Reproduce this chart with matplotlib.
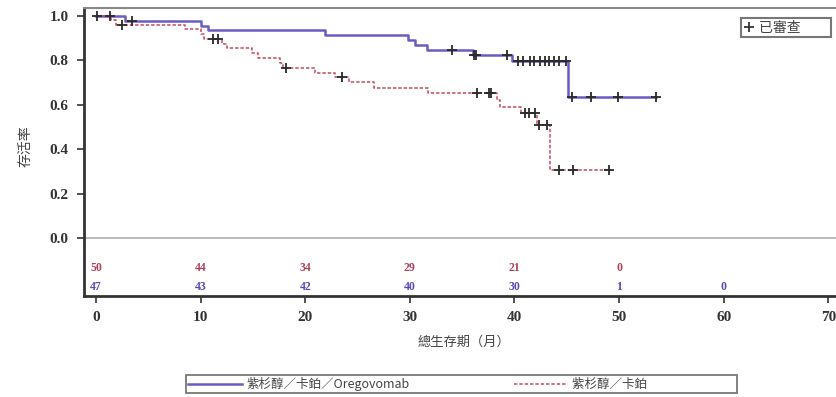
import numpy as np
import matplotlib.pyplot as plt
from matplotlib.lines import Line2D

cjk = ['Noto Sans CJK TC', 'DejaVu Sans']
plt.rcParams['font.family'] = cjk

# Kaplan-Meier steps
blue_t = [0, 2.8, 10.0, 10.7, 21.9, 29.8, 30.5, 31.6, 36.0, 39.8, 45.1, 53.5]
blue_s = [1.0, 0.979, 0.957, 0.936, 0.915, 0.893, 0.870, 0.847, 0.824, 0.797, 0.636, 0.636]
blue_cens = [0.1, 1.3, 3.4, 34.0, 36.1, 36.3, 39.3, 40.3, 40.8, 41.5, 41.9, 42.4,
             42.9, 43.3, 43.8, 44.3, 44.9, 45.5, 47.3, 49.9, 53.5]

red_t = [0, 1.4, 1.9, 8.5, 10.0, 10.3, 12.0, 12.5, 14.9, 15.5, 17.6, 17.9, 20.9,
         22.8, 24.2, 26.6, 31.7, 38.3, 38.6, 40.6, 42.15, 43.4, 49.0]
red_s = [1.0, 0.98, 0.96, 0.94, 0.917, 0.896, 0.876, 0.855, 0.833, 0.811, 0.789,
         0.766, 0.745, 0.724, 0.703, 0.676, 0.652, 0.620, 0.590, 0.565, 0.509, 0.306, 0.306]
red_cens = [2.5, 11.2, 11.7, 18.2, 23.5, 36.4, 37.6, 37.8, 41.0, 41.4, 42.0,
            42.3, 43.1, 44.3, 45.6, 49.0]

risk_months_red = [0, 10, 20, 30, 40, 50]
risk_red = [50, 44, 34, 29, 21, 0]
risk_months_blue = [0, 10, 20, 30, 40, 50, 60]
risk_blue = [47, 43, 42, 40, 30, 1, 0]

blue_c = '#6b5cc4'
red_c = '#c04a5c'


def surv_at(t, times, surv):
    idx = np.searchsorted(times, t, side='right') - 1
    return np.array(surv)[idx]


fig = plt.figure(figsize=(8.37, 3.97), dpi=100)
ax = fig.add_axes([84 / 837, 101 / 397, 760 / 837, 288 / 397])

ax.step(blue_t, blue_s, where='post', color=blue_c, lw=1.8)
ax.step(red_t, red_s, where='post', color=red_c, lw=1.1, ls=(0, (2.2, 1.3)))
ax.plot(blue_cens, surv_at(blue_cens, blue_t, blue_s), ls='none', marker='+',
        ms=6.5, mew=1.3, color='#2a2a2a')
ax.plot(red_cens, surv_at(red_cens, red_t, red_s), ls='none', marker='+',
        ms=6.5, mew=1.3, color='#2a2a2a')

ax.axhline(0, color='#b0b0b0', lw=1.2)

serif_b = dict(family='Liberation Serif', weight='bold')
for m, n in zip(risk_months_red, risk_red):
    ax.text(m, -0.135, str(n), color='#b0405a', fontsize=8.5, ha='center', va='center', **serif_b)
for m, n in zip(risk_months_blue, risk_blue):
    ax.text(m, -0.22, str(n), color='#5a48bb', fontsize=8.5, ha='center', va='center', **serif_b)

ax.set_xlim(-1.15, 71.5)
ax.set_ylim(-0.26, 1.036)
ax.set_xticks(np.arange(0, 80, 10))
ax.set_yticks([0.0, 0.2, 0.4, 0.6, 0.8, 1.0])
ax.set_yticklabels(['0.0', '0.2', '0.4', '0.6', '0.8', '1.0'])
for lab in ax.get_xticklabels() + ax.get_yticklabels():
    lab.set_family('Liberation Serif')
    lab.set_weight('bold')
    lab.set_fontsize(11)
    lab.set_color('#333333')
ax.tick_params(length=5, width=1.3, color='#444444', pad=6)

for s in ['left', 'bottom']:
    ax.spines[s].set_linewidth(2)
    ax.spines[s].set_color('#333333')
ax.spines['top'].set_linewidth(1.5)
ax.spines['top'].set_color('#888888')
ax.spines['right'].set_linewidth(0.8)
ax.spines['right'].set_color('#cccccc')

ax.set_xlabel('總生存期（月）', fontsize=9.5, color='#444444', labelpad=8)
ax.set_ylabel('存活率', fontsize=10, color='#444444')
ax.yaxis.set_label_coords(-0.068, 0.52)

cens_handle = Line2D([], [], ls='none', marker='+', ms=6.5, mew=1.3, color='#333333')
leg1 = ax.legend([cens_handle], ['已審查' + '\u3000' * 2], loc='upper right',
                 bbox_to_anchor=(751 / 760, 0.98),
                 fontsize=10, frameon=True, fancybox=False, handlelength=0.8,
                 handletextpad=0.3, borderpad=0.2, borderaxespad=0.3)
leg1.get_frame().set_edgecolor('#555555')
leg1.get_frame().set_linewidth(1.5)
for t in leg1.get_texts():
    t.set_color('#444444')

h_blue = Line2D([], [], color=blue_c, lw=1.8)
h_red = Line2D([], [], color=red_c, lw=1.1, ls=(0, (2.2, 1.3)))
leg2 = fig.legend([h_blue, h_red], ['紫杉醇／卡鉑／Oregovomab', '紫杉醇／卡鉑' + '\u3000' * 7],
                  loc='lower left', bbox_to_anchor=(186 / 837, 4 / 397),
                  ncol=2, fontsize=9, frameon=True, fancybox=False, columnspacing=8.3,
                  handlelength=4.3, handletextpad=0.4, borderpad=0.15, borderaxespad=0)
leg2.get_frame().set_edgecolor('#555555')
leg2.get_frame().set_linewidth(1.3)
for t in leg2.get_texts():
    t.set_color('#444444')

fig.savefig('out.png', dpi=100)
